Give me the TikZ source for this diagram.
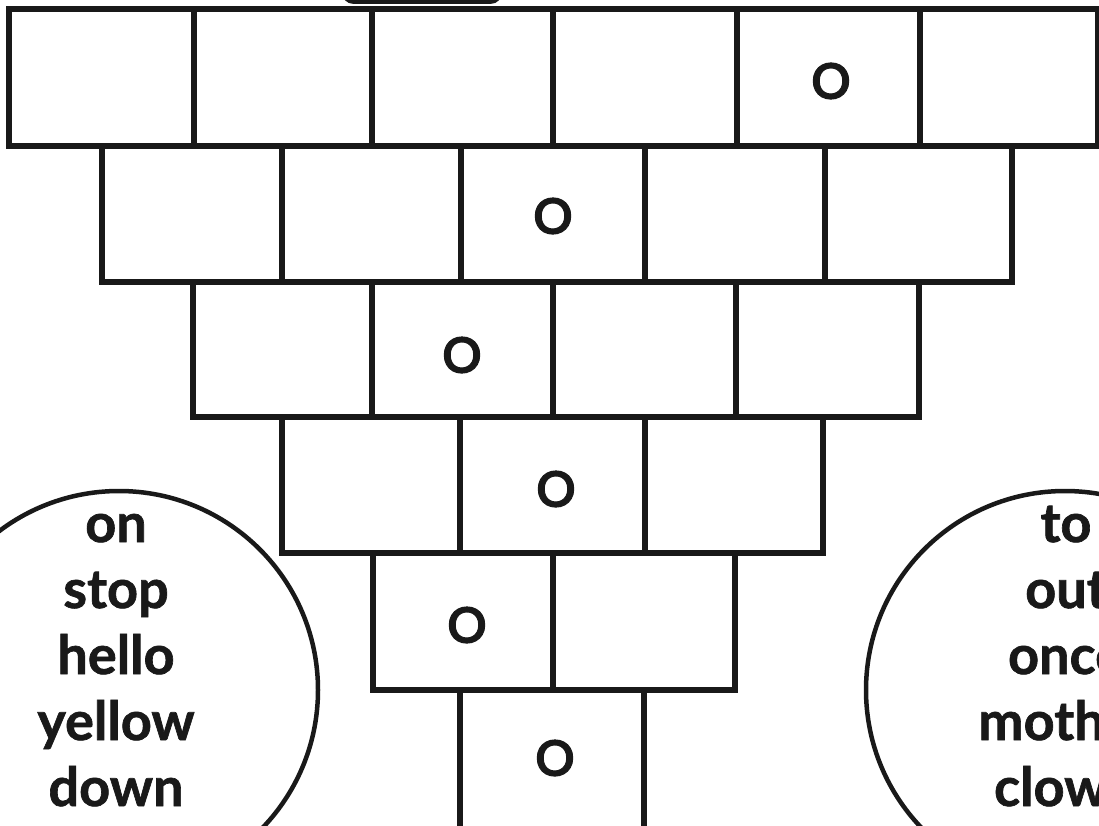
\documentclass[tikz,border=0pt]{standalone}
\usepackage{fontspec}
\setmainfont{Lato}
\newfontfamily\roundfont[FakeBold=1.6]{Poppins}
\usetikzlibrary{positioning}

\begin{document}
\begin{tikzpicture}[x=1pt, y=-1pt,
  wall/.style={draw=black!90, line width=5.5pt, line join=miter},
  ring/.style={draw=black!90, line width=4.5pt},
  sound/.style={inner sep=0pt, text=black!90,
    font=\roundfont\fontsize{64}{64}\selectfont},
  word/.style={inner sep=0pt, anchor=base, text=black!90,
    font=\fontsize{54}{66}\selectfont\bfseries\addfontfeature{FakeBold=1.2}},
]
\useasboundingbox (0,0) rectangle (1099,825);
\clip (0,0) rectangle (1099,825);

% piece of the box above the wall
\draw[wall, rounded corners=8pt] (345,-40) -- (345,1) -- (499,1) -- (499,-40);

% the wall, row by row
\draw[wall] (9,9) rectangle (1098,146);
\foreach \x in {194,372,553,737,920} \draw[wall] (\x,9) -- (\x,146);

\draw[wall] (102,146) rectangle (1012,282);
\foreach \x in {282,461,645,825} \draw[wall] (\x,146) -- (\x,282);

\draw[wall] (193,282) rectangle (919,417);
\foreach \x in {372,553,736} \draw[wall] (\x,282) -- (\x,417);

\draw[wall] (282,417) rectangle (823,553);
\foreach \x in {460,645} \draw[wall] (\x,417) -- (\x,553);

\draw[wall] (373,553) rectangle (735,690);
\draw[wall] (553,553) -- (553,690);

\draw[wall] (460,850) -- (460,690) -- (644,690) -- (644,850);

% bricks with the sound o
\node[sound] (o1) at (831,81)  {o};
\node[sound] (o2) at (553,216) {o};
\node[sound] (o3) at (462,355) {o};
\node[sound] (o4) at (556,489) {o};
\node[sound] (o5) at (467,625) {o};
\node[sound] (o6) at (555,758) {o};

% word circles
\draw[ring] (119,690) circle[radius=199pt];
\draw[ring] (1065,690) circle[radius=199pt];

\foreach \w [count=\i] in {on,stop,hello,yellow,down}
  \node[word] (left\i) at (116,542+66*\i-66) {\w};
\foreach \w [count=\i] in {to,out,once,mother,clown}
  \node[word] (right\i) at (1066,542+66*\i-66) {\w};
\end{tikzpicture}
\end{document}
